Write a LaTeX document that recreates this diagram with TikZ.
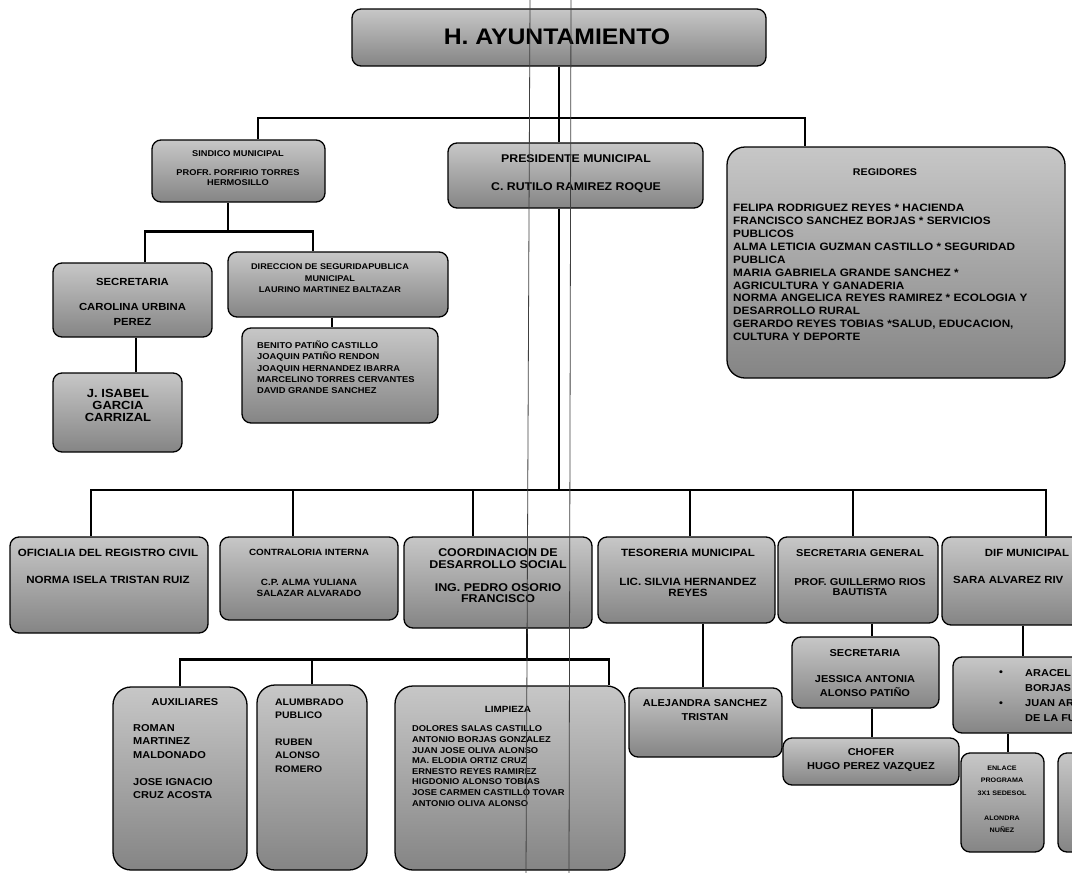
\documentclass[tikz,border=0pt]{standalone}
\usepackage{fontspec}
\setmainfont{Liberation Sans}[FakeStretch=1.1]
\newcommand\setfz[2]{\fontsize{#1}{#2}\selectfont}
\tikzset{
 box/.style={draw=black, line width=1.3pt, rounded corners=9pt, top color=black!22, bottom color=black!48, inner sep=0pt},
 bigbox/.style={box, rounded corners=18pt},
 conn/.style={line width=2.8pt, black},
 txt/.style={inner sep=0pt, align=center, text=black},
 ltxt/.style={inner sep=0pt, align=left, text=black, anchor=west},
 scan/.style={line width=0.8pt, black!75},
}
\begin{document}
\begin{tikzpicture}[x=1pt,y=-1pt]
\useasboundingbox (0,0) rectangle (1072,873);
% boxes
\node[box, minimum width=414, minimum height=57] (ayunt) at (559,37.5) {};
\node[box, minimum width=173, minimum height=62] (sind) at (238.5,171) {};
\node[box, minimum width=255, minimum height=65] (pres) at (575.5,175.5) {};
\node[bigbox, minimum width=338, minimum height=231] (reg) at (896,262.5) {};
\node[box, minimum width=159, minimum height=74] (sec1) at (132.5,300) {};
\node[box, minimum width=129, minimum height=79] (jis) at (117.5,412.5) {};
\node[box, minimum width=220, minimum height=65] (dir) at (338,284.5) {};
\node[box, minimum width=196, minimum height=95] (ben) at (340,375.5) {};
\node[box, minimum width=198, minimum height=96] (ofi) at (109,585) {};
\node[box, minimum width=178, minimum height=83] (contra) at (309,578.5) {};
\node[box, minimum width=188, minimum height=91] (coord) at (498,582.5) {};
\node[box, minimum width=177, minimum height=86] (tes) at (686.5,580) {};
\node[box, minimum width=160, minimum height=86] (sg) at (858,580) {};
\node[box, minimum width=208, minimum height=88] (dif) at (1046,581) {};
\node[box, minimum width=153, minimum height=69] (ale) at (705.5,722.5) {};
\node[box, minimum width=147, minimum height=71] (sec2) at (865.5,672.5) {};
\node[box, minimum width=176, minimum height=47] (chof) at (871,761.5) {};
\node[box, minimum width=197, minimum height=76] (arac) at (1051.5,695) {};
\node[box, minimum width=83, minimum height=99] (enl) at (1002.5,802.5) {};
\node[box, minimum width=82, minimum height=99] (enl2) at (1099,802.5) {};
\node[bigbox, minimum width=134, minimum height=183] (aux) at (180,778.5) {};
\node[bigbox, minimum width=110, minimum height=185] (alum) at (312,777.5) {};
\node[bigbox, minimum width=230, minimum height=184] (limp) at (510,778) {};
% connectors
\coordinate (mb) at (559,490);
\coordinate (tb) at (559,118);
\draw[conn] (ayunt.south) -- (ayunt.south |- pres.north);
\draw[conn] (ayunt.south |- pres.south) -- (mb);
\draw[conn] ([xshift=19.5]sind.north) |- (tb) -| ([xshift=-91]reg.north);
\draw[conn] ([xshift=-10.5]sind.south) -- ++(0,29) coordinate (sb);
\draw[conn] ([xshift=12.5]sec1.north) |- (sb) -| ([xshift=-25]dir.north);
\draw[conn] ([xshift=3.5]sec1.south) -- ([xshift=3.5]sec1.south |- jis.north);
\draw[conn] ([xshift=-6]dir.south) -- ([xshift=-6]dir.south |- ben.north);
\draw[conn] ([xshift=-18]ofi.north) |- (mb) -| (dif.north);
\draw[conn] ([xshift=-16]contra.north) -- ([xshift=-16]contra.north |- mb);
\draw[conn] ([xshift=-25]coord.north) -- ([xshift=-25]coord.north |- mb);
\draw[conn] ([xshift=3.5]tes.north) -- ([xshift=3.5]tes.north |- mb);
\draw[conn] ([xshift=-5]sg.north) -- ([xshift=-5]sg.north |- mb);
\draw[conn] ([xshift=29]coord.south) -- ++(0,31) coordinate (cb);
\draw[conn] (aux.north) |- (cb) -| ([xshift=99]limp.north);
\draw[conn] (alum.north) -- (alum.north |- cb);
\draw[conn] ([xshift=16.5]tes.south) -- ([xshift=16.5]tes.south |- ale.north);
\draw[conn] ([xshift=14]sg.south) -- ([xshift=14]sg.south |- sec2.north);
\draw[conn] ([xshift=6.5]sec2.south) -- ([xshift=6.5]sec2.south |- chof.north);
\draw[conn] ([xshift=-23]dif.south) -- ([xshift=-23]dif.south |- arac.north);
\draw[conn] ([xshift=-43.5]arac.south) -- ([xshift=-43.5]arac.south |- enl.north);
% texts
\node[txt, font=\bfseries\setfz{22.5}{24}] (t-ayunt) at (557,37) {H. AYUNTAMIENTO};
\node[txt, font=\bfseries\setfz{8.4}{9.5}] (t-sind) at (238,168) {SINDICO MUNICIPAL\\[9.5pt]PROFR. PORFIRIO TORRES\\HERMOSILLO};
\node[txt, font=\bfseries\setfz{11.2}{28}] (t-pres) at (576,174) {PRESIDENTE MUNICIPAL\\C. RUTILO RAMIREZ ROQUE};
\node[txt, font=\bfseries\setfz{9.7}{11}] (t-reg) at (885,172) {REGIDORES};
\node[ltxt, font=\bfseries\setfz{10.7}{12.9}] (t-regl) at (733,272.5) {FELIPA RODRIGUEZ REYES * HACIENDA\\FRANCISCO SANCHEZ BORJAS * SERVICIOS\\PUBLICOS\\ALMA LETICIA GUZMAN CASTILLO * SEGURIDAD\\PUBLICA\\MARIA GABRIELA GRANDE SANCHEZ *\\AGRICULTURA Y GANADERIA\\NORMA ANGELICA REYES RAMIREZ * ECOLOGIA Y\\DESARROLLO RURAL\\GERARDO REYES TOBIAS *SALUD, EDUCACION,\\CULTURA Y DEPORTE};
\node[txt, font=\bfseries\setfz{10.3}{15}] (t-sec1) at (132.5,302) {SECRETARIA\\[10pt]CAROLINA URBINA\\PEREZ};
\node[txt, font=\bfseries\setfz{11.8}{12}] (t-jis) at (118,405) {J. ISABEL\\GARCIA\\CARRIZAL};
\node[txt, font=\bfseries\setfz{8.3}{11.5}] (t-dir) at (330,278.5) {DIRECCION DE SEGURIDAPUBLICA\\MUNICIPAL\\LAURINO MARTINEZ BALTAZAR};
\node[ltxt, font=\bfseries\setfz{8.5}{11.3}] (t-ben) at (257,367.5) {BENITO PATIÑO CASTILLO\\JOAQUIN PATIÑO RENDON\\JOAQUIN HERNANDEZ IBARRA\\MARCELINO TORRES CERVANTES\\DAVID GRANDE SANCHEZ};
\node[txt, font=\bfseries\setfz{10.5}{27}] (t-ofi) at (108,566.5) {OFICIALIA DEL REGISTRO CIVIL\\NORMA ISELA TRISTAN RUIZ};
\node[txt, font=\bfseries\setfz{9}{10.5}] (t-contra) at (309,573) {CONTRALORIA INTERNA\\[19.5pt]C.P. ALMA YULIANA\\SALAZAR ALVARADO};
\node[txt, font=\bfseries\setfz{11.3}{11.5}] (t-coord) at (498,576) {COORDINACION DE\\DESARROLLO SOCIAL\\[11.5pt]ING. PEDRO OSORIO\\FRANCISCO};
\node[txt, font=\bfseries\setfz{10.5}{11}] (t-tes) at (688,573) {TESORERIA MUNICIPAL\\[18pt]LIC. SILVIA HERNANDEZ\\REYES};
\node[txt, font=\bfseries\setfz{10}{10.5}] (t-sg) at (860,572.5) {SECRETARIA GENERAL\\[18.5pt]PROF. GUILLERMO RIOS\\BAUTISTA};
\node[txt, font=\bfseries\setfz{10.4}{12}] (t-dif) at (1027,553) {DIF MUNICIPAL};
\node[ltxt, font=\bfseries\setfz{10.4}{12}] (t-dif2) at (953,580) {SARA ALVAREZ RIV};
\node[txt, font=\bfseries\setfz{10}{14}] (t-ale) at (705,710) {ALEJANDRA SANCHEZ\\TRISTAN};
\node[txt, font=\bfseries\setfz{10}{14}] (t-sec2) at (865,673) {SECRETARIA\\[12pt]JESSICA ANTONIA\\ALONSO PATIÑO};
\node[txt, font=\bfseries\setfz{10}{14}] (t-chof) at (871,760) {CHOFER\\HUGO PEREZ VAZQUEZ};
\node[ltxt, font=\bfseries\setfz{10}{15}] (t-arac) at (1025,696) {ARACEL\\BORJAS\\JUAN AR\\DE LA FU};
\node[txt, font=\bfseries\setfz{10}{12}] (t-b1) at (1001,673) {•};
\node[txt, font=\bfseries\setfz{10}{12}] (t-b2) at (1001,704) {•};
\node[txt, font=\bfseries\setfz{6.5}{12.5}] (t-enl) at (1002,799.5) {ENLACE\\PROGRAMA\\3X1 SEDESOL\\[12.5pt]ALONDRA\\NUÑEZ};
\node[txt, font=\bfseries\setfz{10}{12}] (t-aux) at (185,702) {AUXILIARES};
\node[ltxt, font=\bfseries\setfz{10}{13.5}] (t-auxl) at (133,761.5) {ROMAN\\MARTINEZ\\MALDONADO\\[13.5pt]JOSE IGNACIO\\CRUZ ACOSTA};
\node[ltxt, font=\bfseries\setfz{9.5}{13.4}] (t-alum) at (275,735.5) {ALUMBRADO\\PUBLICO\\[13.5pt]RUBEN\\ALONSO\\ROMERO};
\node[txt, font=\bfseries\setfz{9}{10}] (t-limp) at (508,709) {LIMPIEZA};
\node[ltxt, font=\bfseries\setfz{8.5}{10.6}] (t-limpl) at (412,766) {DOLORES SALAS CASTILLO\\ANTONIO BORJAS GONZALEZ\\JUAN JOSE OLIVA ALONSO\\MA. ELODIA ORTIZ CRUZ\\ERNESTO REYES RAMIREZ\\HIGDONIO ALONSO TOBIAS\\JOSE CARMEN CASTILLO TOVAR\\ANTONIO OLIVA ALONSO};
% scan lines
\draw[scan] (530,0) -- (526,873);
\draw[scan] (571,0) -- (569,873);
\end{tikzpicture}
\end{document}
